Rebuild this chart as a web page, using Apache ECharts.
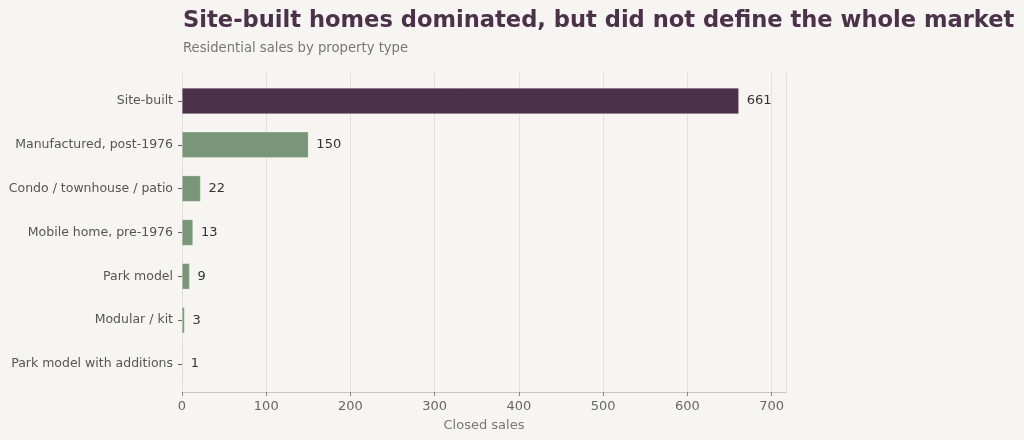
<!DOCTYPE html>
<html>
<head>
<meta charset="utf-8">
<script src="https://cdn.jsdelivr.net/npm/echarts@6/dist/echarts.min.js"></script>
<style>
  html, body { margin: 0; padding: 0; background: #f6f5f1; }
  #chart { width: 1024px; height: 440px; }
</style>
</head>
<body>
<div id="chart"></div>
<script>
// data
const categories = [
  'Site-built',
  'Manufactured, post-1976',
  'Condo / townhouse / patio',
  'Mobile home, pre-1976',
  'Park model',
  'Modular / kit',
  'Park model with additions'
];
const sales = [661, 150, 22, 13, 9, 3, 1];
const xTicks = [0, 100, 200, 300, 400, 500, 600, 700];

const font = 'DejaVu Sans';
const purple = '#4b3249';
const green = '#7a9678';

const chart = echarts.init(document.getElementById('chart'), null, { renderer: 'canvas' });

chart.setOption({
  backgroundColor: '#f6f5f1',
  animation: false,
  title: {
    text: 'Site-built homes dominated, but did not define the whole market',
    subtext: 'Residential sales by property type',
    left: 178,
    top: 5,
    itemGap: 9,
    textStyle: { fontFamily: font, fontSize: 22.6, fontWeight: 'bold', color: purple },
    subtextStyle: { fontFamily: font, fontSize: 13.2, color: '#777' }
  },
  grid: [
    // outer frame: gridlines + bottom axis
    { left: 182, right: 238, top: 73, bottom: 48 },
    // inner frame: bars
    { left: 182, right: 238, top: 79, bottom: 54 }
  ],
  xAxis: [
    {
      gridIndex: 0, type: 'value', min: 0, max: 717, interval: 100,
      name: 'Closed sales', nameLocation: 'middle', nameGap: 27,
      nameTextStyle: { fontFamily: font, fontSize: 13, color: '#777' },
      axisLine: { show: true, lineStyle: { color: '#c8c6c2', width: 1.2 } },
      axisTick: { show: true, length: 4, lineStyle: { color: '#888' } },
      axisLabel: {
        fontFamily: font, fontSize: 13, color: '#666', margin: 8,
        showMaxLabel: false,
        formatter: v => xTicks.includes(v) ? String(v) : ''
      },
      splitLine: { show: true, lineStyle: { color: '#e2e0dc', width: 1 } }
    },
    {
      gridIndex: 1, type: 'value', min: 0, max: 717, show: false
    }
  ],
  yAxis: [
    { gridIndex: 0, type: 'value', min: 0, max: 1, show: false },
    {
      gridIndex: 1, type: 'category', inverse: true, data: categories,
      axisLine: { show: false },
      axisTick: { show: true, length: 4, alignWithLabel: true, lineStyle: { color: '#666', width: 1.1 } },
      axisLabel: { fontFamily: font, fontSize: 12.5, color: '#555', margin: 9 },
      splitLine: { show: false }
    }
  ],
  series: [{
    type: 'bar',
    xAxisIndex: 1,
    yAxisIndex: 1,
    barWidth: 26,
    data: sales.map((v, i) => ({
      value: v,
      itemStyle: { color: i === 0 ? purple : green }
    })),
    itemStyle: { borderColor: 'rgba(255,255,255,0.5)', borderWidth: 0.5 },
    label: {
      show: true, position: 'right', distance: 8,
      fontFamily: font, fontSize: 13, color: '#333'
    }
  }]
});
</script>
</body>
</html>
